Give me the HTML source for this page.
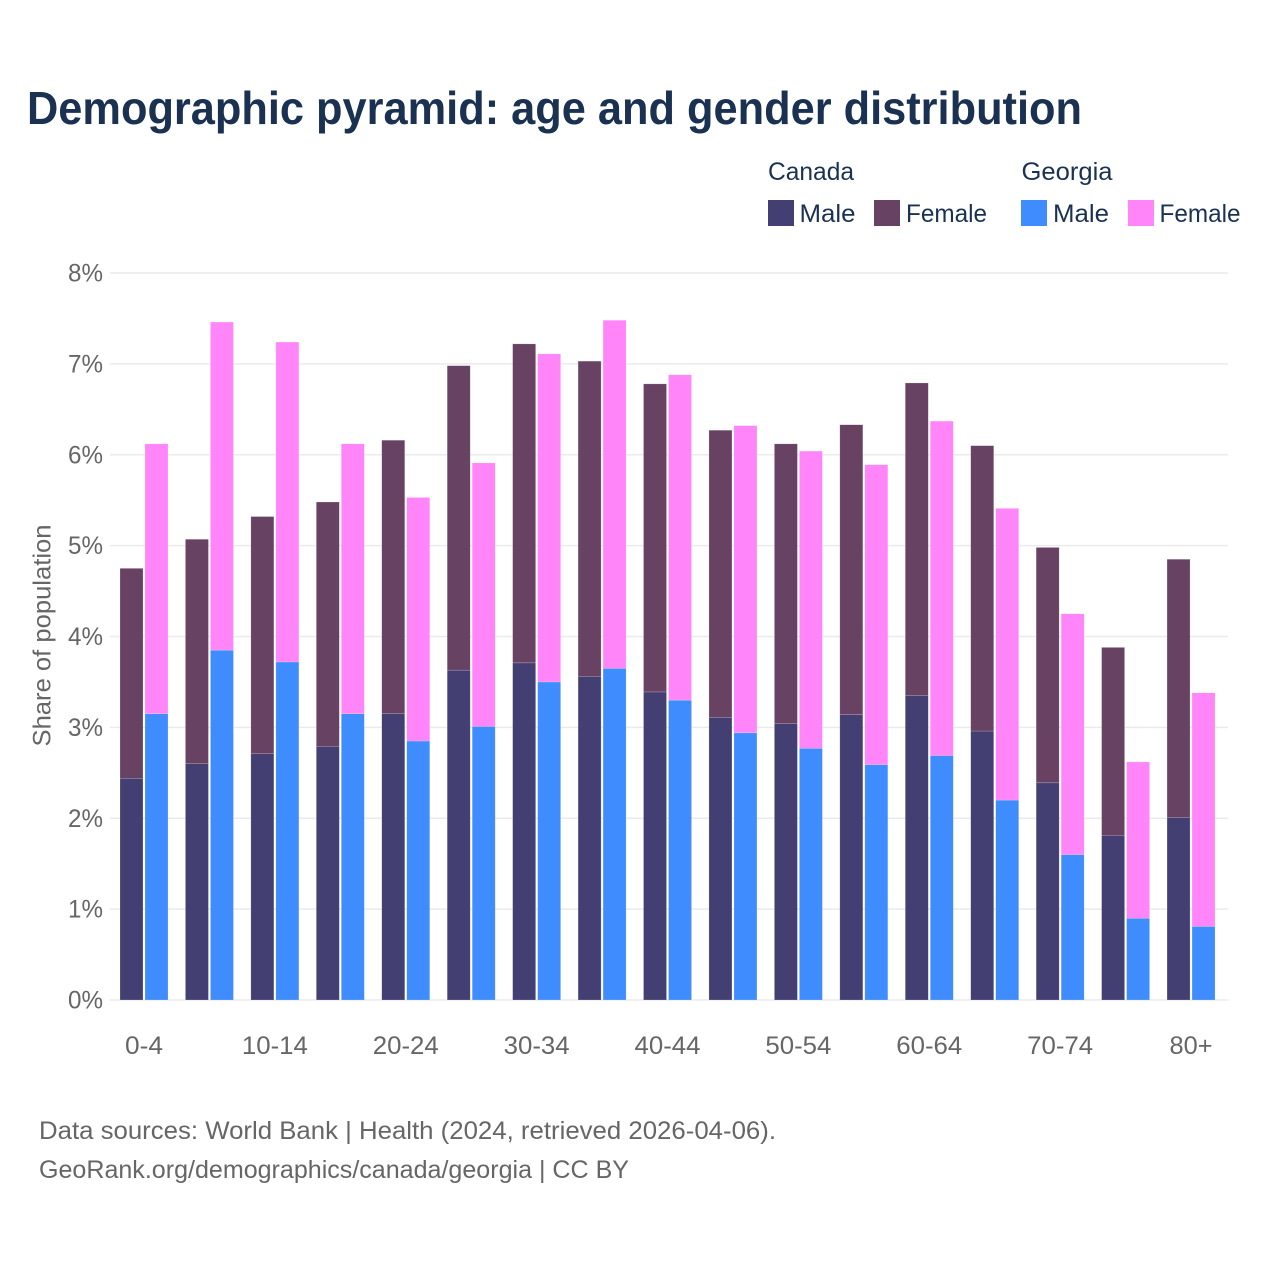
<!DOCTYPE html>
<html lang="en">
<head>
<meta charset="utf-8">
<title>Demographic pyramid</title>
<style>
html,body{margin:0;padding:0;background:#fff;}
svg{display:block;font-family:"Liberation Sans",sans-serif;}
</style>
</head>
<body>
<svg id="chart" width="1280" height="1280" viewBox="0 0 1280 1280" xmlns="http://www.w3.org/2000/svg">
<rect width="1280" height="1280" fill="#fff"/>
<text x="27" y="124" font-size="46" font-weight="700" fill="#1a3152" textLength="1055" lengthAdjust="spacingAndGlyphs">Demographic pyramid: age and gender distribution</text>

<g font-size="25" fill="#1a3152">
<text x="768" y="180" textLength="86" lengthAdjust="spacingAndGlyphs">Canada</text>
<text x="1021.5" y="180" textLength="91" lengthAdjust="spacingAndGlyphs">Georgia</text>
<rect x="768" y="200" width="26" height="26" fill="#433f72"/>
<text x="799.5" y="222" textLength="56" lengthAdjust="spacingAndGlyphs">Male</text>
<rect x="874" y="200" width="26" height="26" fill="#684263"/>
<text x="906" y="222" textLength="81" lengthAdjust="spacingAndGlyphs">Female</text>
<rect x="1021" y="200" width="26" height="26" fill="#3f8cff"/>
<text x="1053" y="222" textLength="56" lengthAdjust="spacingAndGlyphs">Male</text>
<rect x="1128" y="200" width="26" height="26" fill="#ff85f8"/>
<text x="1159.5" y="222" textLength="81" lengthAdjust="spacingAndGlyphs">Female</text>
</g>

<g id="grid"></g>
<g id="ylabels"></g>
<g id="bars"></g>
<g id="xlabels"></g>

<text transform="translate(50.5 635.5) rotate(-90)" text-anchor="middle" font-size="25" fill="#666" textLength="222" lengthAdjust="spacingAndGlyphs">Share of population</text>

<g font-size="25" fill="#666">
<text x="39" y="1139" textLength="737" lengthAdjust="spacingAndGlyphs">Data sources: World Bank | Health (2024, retrieved 2026-04-06).</text>
<text x="39" y="1178" textLength="590" lengthAdjust="spacingAndGlyphs">GeoRank.org/demographics/canada/georgia | CC BY</text>
</g>
</svg>
<script>
const categories = ["0-4","5-9","10-14","15-19","20-24","25-29","30-34","35-39","40-44","45-49","50-54","55-59","60-64","65-69","70-74","75-79","80+"];
const xTickLabels = ["0-4","","10-14","","20-24","","30-34","","40-44","","50-54","","60-64","","70-74","","80+"];
const yTicks = [0,1,2,3,4,5,6,7,8];
const canadaMale = [2.44,2.60,2.71,2.79,3.15,3.63,3.71,3.56,3.39,3.11,3.04,3.14,3.35,2.96,2.39,1.81,2.01];
const canadaFemale = [2.31,2.47,2.61,2.69,3.01,3.35,3.51,3.47,3.39,3.16,3.08,3.19,3.44,3.14,2.59,2.07,2.84];
const georgiaMale = [3.15,3.85,3.72,3.15,2.85,3.01,3.50,3.65,3.30,2.94,2.77,2.59,2.69,2.20,1.60,0.90,0.81];
const georgiaFemale = [2.97,3.61,3.52,2.97,2.68,2.90,3.61,3.83,3.58,3.38,3.27,3.30,3.68,3.21,2.65,1.72,2.57];

const NS = "http://www.w3.org/2000/svg";
const plotTop = 273, plotBottom = 1000, plotLeft = 110, plotRight = 1228;
const yMax = 8, firstCenter = 144, groupStep = 65.44, barWidth = 23, barOffset = 12.5;
function yScale(v){ return plotBottom - (v / yMax) * (plotBottom - plotTop); }
function xCenter(i){ return firstCenter + i * groupStep; }

const grid = document.getElementById("grid");
const ylabels = document.getElementById("ylabels");
yTicks.forEach(function(t){
  const line = document.createElementNS(NS, "line");
  line.setAttribute("x1", plotLeft);
  line.setAttribute("x2", plotRight);
  line.setAttribute("y1", yScale(t));
  line.setAttribute("y2", yScale(t));
  line.setAttribute("stroke", "#ebebeb");
  line.setAttribute("stroke-width", "1.5");
  
  
  grid.appendChild(line);
  const label = document.createElementNS(NS, "text");
  label.setAttribute("x", 103);
  label.setAttribute("y", yScale(t) + 8.5);
  label.setAttribute("text-anchor", "end");
  label.setAttribute("font-size", "25");
  label.setAttribute("fill", "#666");
  label.setAttribute("textLength", "35");
  label.setAttribute("lengthAdjust", "spacingAndGlyphs");
  label.textContent = t + "%";
  
  
  ylabels.appendChild(label);
});

const bars = document.getElementById("bars");
function addBar(cx, lo, hi, color){
  const r = document.createElementNS(NS, "rect");
  r.setAttribute("x", cx - barWidth / 2);
  r.setAttribute("width", barWidth);
  r.setAttribute("y", yScale(hi));
  r.setAttribute("height", yScale(lo) - yScale(hi));
  r.setAttribute("fill", color);
  r.setAttribute("stroke", "#fff");
  r.setAttribute("stroke-opacity", "0.35");
  r.setAttribute("stroke-width", "0.5");
  
  
  bars.appendChild(r);
}
categories.forEach(function(c, i){
  const cx = xCenter(i);
  addBar(cx - barOffset, 0, canadaMale[i], "#433f72");
  addBar(cx - barOffset, canadaMale[i], canadaMale[i] + canadaFemale[i], "#684263");
  addBar(cx + barOffset, 0, georgiaMale[i], "#3f8cff");
  addBar(cx + barOffset, georgiaMale[i], georgiaMale[i] + georgiaFemale[i], "#ff85f8");
});

const xlabels = document.getElementById("xlabels");
xTickLabels.forEach(function(s, i){
  if (!s) return;
  const label = document.createElementNS(NS, "text");
  label.setAttribute("x", xCenter(i));
  label.setAttribute("y", 1054);
  label.setAttribute("text-anchor", "middle");
  label.setAttribute("font-size", "25");
  label.setAttribute("fill", "#666");
  label.setAttribute("textLength", s.length <= 3 ? (s === "0-4" ? "38" : "43") : "66");
  label.setAttribute("lengthAdjust", "spacingAndGlyphs");
  label.textContent = s;
  
  
  xlabels.appendChild(label);
});
</script>
</body>
</html>
